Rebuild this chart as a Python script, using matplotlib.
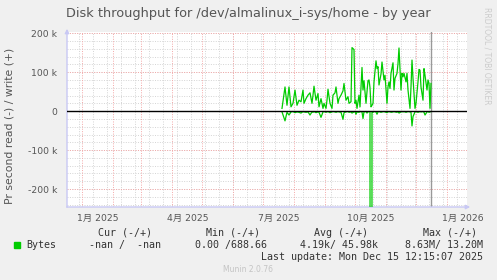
import pandas as pd
import matplotlib
matplotlib.use("Agg")
import matplotlib.pyplot as plt
from matplotlib.patches import Rectangle

# day offsets from 2025-01-01 for each plotted sample
days = [200, 203, 205, 207, 209, 211, 213, 215, 217, 219, 221, 222, 224, 226, 228,
        230, 231, 232, 234, 236, 237, 239, 241, 242, 244, 245, 246, 248, 250, 251,
        253, 254, 256, 257, 259, 261, 262, 264, 266, 267, 269, 270, 272, 273, 274,
        275, 277, 278, 280, 281, 282, 284, 285, 286, 287, 288, 289, 290, 291, 292,
        294, 295, 296, 297, 299, 300, 302, 303, 305, 306, 307, 308, 309, 311, 312,
        313, 315, 316, 317, 319, 320, 321, 322, 324, 325, 326, 328, 329, 330, 331,
        333, 334, 336, 337, 338, 339, 341, 342, 343, 345, 346, 347, 348, 349]

# write bytes/s (k)
write_k = [7, 62, 15, 62, 11, 20, 54, 15, 28, 24, 54, 20, 32, 41, 47,
           20, 41, 64, 28, 45, 11, 32, 7, 20, 7, 28, 56, 20, 7, 41,
           47, 62, 20, 32, 41, 52, 71, 28, 37, 20, 24, 163, 158, 20, 28,
           7, 41, 11, 112, 54, 78, 20, 50, 78, 80, 60, 11, 15, 20, 75,
           129, 109, 114, 67, 95, 126, 80, 92, 20, 62, 75, 58, 97, 124, 54,
           84, 97, 122, 162, 54, 97, 88, 97, 75, 97, 54, 7, 62, 131, 84,
           7, 20, 75, 107, 105, 62, 28, 109, 92, 54, 80, 71, 7, 71]

# read bytes/s (k), drawn below zero
read_k = [2, 25, 3, 10, 2, 1, 4, 2, 3, 5, 1, 2, 3, 2, 10,
          2, 3, 1, 4, 2, 3, 16, 2, 1, 3, 2, 1, 4, 2, 1,
          2, 3, 1, 2, 3, 21, 4, 2, 1, 3, 2, 5, 2, 1, 8,
          2, 3, 1, 2, 19, 2, 1, 5, 2, 1, 2, 8630, 2, 3, 1,
          2, 8, 2, 1, 3, 2, 1, 2, 4, 1, 2, 1, 3, 2, 1,
          2, 3, 1, 5, 2, 1, 2, 1, 3, 2, 1, 2, 3, 38, 14,
          2, 1, 3, 2, 1, 2, 1, 3, 10, 2, 1, 3, 2, 1]

month_labels = ["1月 2025", "4月 2025", "7月 2025", "10月 2025", "1月 2026"]
label_months = ["2025-01-01", "2025-04-01", "2025-07-01", "2025-10-01", "2026-01-01"]
yticks_k = [-200, -100, 0, 100, 200]
ytick_labels = ["-200 k", "-100 k", "0", "100 k", "200 k"]

legend_cols = ["Cur (-/+)", "Min (-/+)", "Avg (-/+)", "Max (-/+)"]
legend_vals = ["-nan /  -nan", "0.00 /688.66", "4.19k/ 45.98k", "8.63M/ 13.20M"]

base = pd.Timestamp("2025-01-01")
dates = base + pd.to_timedelta(days, unit="D")

W, H = 497, 280
fig = plt.figure(figsize=(W / 100, H / 100), dpi=100, facecolor="#f0f0f0")
ax = fig.add_axes([67 / W, (H - 207) / H, 400 / W, 175 / H])
ax.set_facecolor("white")

x0 = pd.Timestamp("2024-12-17")
x1 = pd.Timestamp("2026-01-21")
ax.set_xlim(x0, x1)
ax.set_ylim(-246, 203)

green = "#00cc00"
ax.plot(dates, write_k, color=green, lw=0.9, zorder=4)
ax.plot(dates, [-v for v in read_k], color=green, lw=0.9, zorder=4)

# grid
grid_minor = "#d4d4d4"
grid_major = "#f4a8a8"
for t in pd.date_range("2024-12-29", x1, freq="14D"):
    ax.axvline(t, color=grid_minor, lw=0.7, ls=(0, (1, 1.5)), zorder=1)
for t in pd.date_range("2025-01-01", x1, freq="MS"):
    ax.axvline(t, color=grid_major, lw=0.7, ls=(0, (1, 1.5)), zorder=2)
for v in range(-240, 201, 20):
    ax.axhline(v, color=grid_minor, lw=0.7, ls=(0, (1, 1.5)), zorder=1)
for v in range(-200, 201, 100):
    ax.axhline(v, color=grid_major, lw=0.7, ls=(0, (1, 1.5)), zorder=2)
ax.axhline(0, color="black", lw=1.0, zorder=5)
ax.axvline(pd.Timestamp("2025-12-16"), color="#999999", lw=1.0, zorder=3)

for s in ax.spines.values():
    s.set_visible(False)
axis_col = "#c8c8f4"
ax.annotate("", xy=(0, 1 + 6 / 175), xytext=(0, -3 / 175), xycoords="axes fraction",
            arrowprops=dict(arrowstyle="-|>", color=axis_col, lw=1, mutation_scale=6))
ax.annotate("", xy=(1 + 6 / 400, 0), xytext=(-3 / 400, 0), xycoords="axes fraction",
            arrowprops=dict(arrowstyle="-|>", color=axis_col, lw=1, mutation_scale=6))

ax.set_yticks(yticks_k)
ax.set_yticklabels(ytick_labels)
ax.set_xticks([pd.Timestamp(m) + pd.Timedelta(days=16) for m in label_months])
ax.set_xticklabels(month_labels, family=["DejaVu Sans", "Noto Sans CJK JP"])
ax.tick_params(length=0, labelsize=6.7, colors="#555555")
ax.tick_params(axis="y", pad=7)
ax.tick_params(axis="x", pad=5)

txt = "#555555"
fig.text(248 / W, 1 - 17 / H, "Disk throughput for /dev/almalinux_i-sys/home - by year",
         ha="center", va="baseline", fontsize=9.3, color=txt)
fig.text(10 / W, 1 - 126 / H, "Pr second read (-) / write (+)", rotation=90,
         ha="center", va="center", fontsize=7.8, color=txt)
fig.text(487 / W, 1 - 56 / H, "RRDTOOL / TOBI OETIKER", rotation=270,
         ha="center", va="center", fontsize=5.5, color="#cccccc")

mono = "DejaVu Sans Mono"
leg = "#333333"
head_x = [125, 233.5, 341.5, 450]
val_x = [161, 267, 378, 483]
for hx, h in zip(head_x, legend_cols):
    fig.text(hx / W, 1 - 232.7 / H, h, ha="center", va="center", family=mono,
             fontsize=7.2, color=leg)
for vx, v in zip(val_x, legend_vals):
    fig.text(vx / W, 1 - 244.7 / H, v, ha="right", va="center", family=mono,
             fontsize=7.2, color=leg)
fig.patches.append(Rectangle((14 / W, 1 - 247.5 / H), 5.5 / W, 5.5 / H,
                             transform=fig.transFigure, color=green))
fig.text(26 / W, 1 - 244.7 / H, "Bytes", ha="left", va="center", family=mono,
         fontsize=7.2, color=leg)
fig.text(483 / W, 1 - 256.7 / H, "Last update: Mon Dec 15 12:15:07 2025", ha="right",
         va="center", family=mono, fontsize=7.2, color=leg)
fig.text(248 / W, 1 - 269 / H, "Munin 2.0.76", ha="center", va="center",
         fontsize=5.5, color="#c4c4c4")

fig.savefig("out.png", dpi=100, facecolor=fig.get_facecolor())
